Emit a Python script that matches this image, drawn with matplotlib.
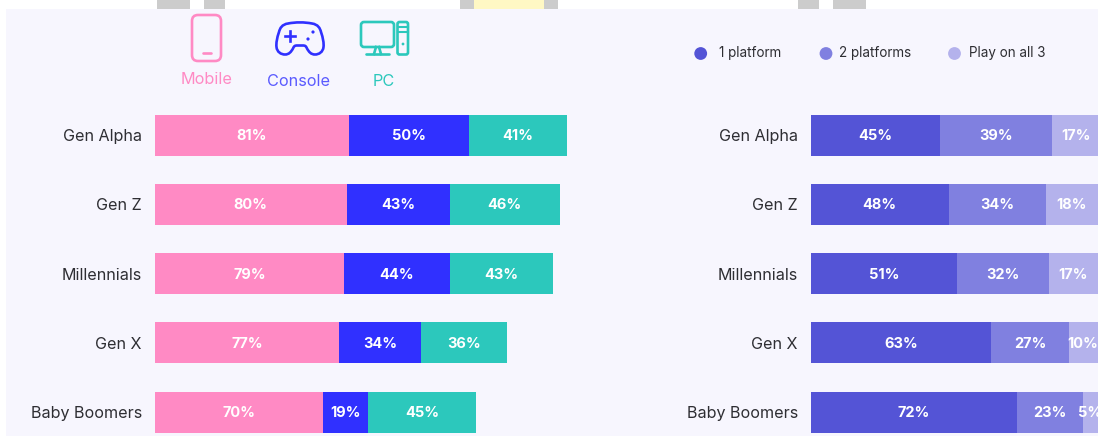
# -*- coding: utf-8 -*-
import matplotlib
matplotlib.use('Agg')
import matplotlib.pyplot as plt
from matplotlib.patches import Rectangle, FancyBboxPatch, Circle, PathPatch
from matplotlib.path import Path

plt.rcParams['font.family'] = ['Inter', 'DejaVu Sans']

W, H = 1108, 436

# data
generations = ['Gen Alpha', 'Gen Z', 'Millennials', 'Gen X', 'Baby Boomers']
mobile = [81, 80, 79, 77, 70]
console = [50, 43, 44, 34, 19]
pc = [41, 46, 43, 36, 45]
one_platform = [45, 48, 51, 63, 72]
two_platforms = [39, 34, 32, 27, 23]
all_three = [17, 18, 17, 10, 5]
device_names = ['Mobile', 'Console', 'PC']
platform_names = ['1 platform', '2 platforms', 'Play on all 3']

PINK, BLUE, TEAL = '#ff8ac4', '#3030ff', '#2cc8bc'
P1, P2, P3 = '#5454d6', '#8080e0', '#b4b2ec'
BG = '#f7f6fe'
TXT = '#2e2e33'


def add_px_axes(fig, x0, x1, y0, y1):
    # position given in picture pixels, y from the top
    return fig.add_axes([x0 / W, 1 - y1 / H, (x1 - x0) / W, (y1 - y0) / H])


def stacked(ax, series, colors):
    left = [0] * len(generations)
    ypos = range(len(generations))
    for vals, col in zip(series, colors):
        ax.barh(ypos, vals, left=left, height=0.592, color=col, linewidth=0)
        for i, v in enumerate(vals):
            ax.text(left[i] + v / 2, i + 0.012, f'{v}%', color='white', ha='center', va='center',
                    fontsize=10.5, fontweight='bold', clip_on=True)
        left = [a + b for a, b in zip(left, vals)]
    ax.set_yticks(list(ypos))
    ax.set_yticklabels(generations, fontsize=11.6, color=TXT, va='center_baseline')
    ax.tick_params(axis='y', length=0, pad=9.5)
    ax.set_xticks([])
    ax.set_ylim(4.5, -0.5)
    ax.patch.set_alpha(0)
    for s in ax.spines.values():
        s.set_visible(False)


fig = plt.figure(figsize=(W / 100, H / 100), dpi=100, facecolor='white')

# overlay in pixel coordinates for the panel, header scraps and icons
bg = fig.add_axes([0, 0, 1, 1])
bg.set_xlim(0, W)
bg.set_ylim(H, 0)
bg.axis('off')
bg.add_patch(Rectangle((6, 9), 1092, 427, color=BG, lw=0))
for x0, x1, col in [(157, 190, '#cccccc'), (204, 225, '#cccccc'), (460, 474, '#cccccc'),
                    (474, 544, '#fff8c4'), (544, 558, '#cccccc'),
                    (798, 819, '#cccccc'), (833, 866, '#cccccc')]:
    bg.add_patch(Rectangle((x0, 0), x1 - x0, 9, color=col, lw=0))

# bars: one axes per panel, the right one is cut at the panel edge like the reference
row_h = 69.25
top = 135.2 - row_h / 2
ax1 = add_px_axes(fig, 155, 155 + 2.395 * 180, top, top + 5 * row_h)
ax1.set_xlim(0, 180)
stacked(ax1, [mobile, console, pc], [PINK, BLUE, TEAL])

ax2 = add_px_axes(fig, 811, 1098, top, top + 5 * row_h)
ax2.set_xlim(0, 287 / 2.865)
stacked(ax2, [one_platform, two_platforms, all_three], [P1, P2, P3])

# device icons
lw = 1.9
bg.add_patch(FancyBboxPatch((192, 15), 29, 46, boxstyle='round,pad=0,rounding_size=6',
                            fc='none', ec=PINK, lw=lw))
bg.plot([203, 211], [53, 53], color=PINK, lw=lw, solid_capstyle='round')

pad = [(288, 23.5),
       (296, 22), (304, 22), (312, 23.5),
       (318, 24.5), (320, 28), (321, 32),
       (323, 38), (324, 43), (323.5, 47),
       (323, 52), (319, 54.5), (315, 54.5),
       (311, 54.5), (309, 52), (307, 48.5),
       (306, 46), (305, 45.5), (303, 45.5),
       (301, 45.5), (299, 45.5), (297, 45.5),
       (295, 45.5), (294, 46), (293, 48.5),
       (291, 52), (289, 54.5), (285, 54.5),
       (281, 54.5), (277, 52), (276.5, 47),
       (276, 43), (277, 38), (279, 32),
       (280, 28), (282, 24.5), (288, 23.5)]
codes = [Path.MOVETO] + [Path.CURVE4] * (len(pad) - 1)
bg.add_patch(PathPatch(Path(pad, codes), fc='none', ec=BLUE, lw=lw))
bg.plot([285, 295], [36, 36], color=BLUE, lw=lw)
bg.plot([290, 290], [31, 41], color=BLUE, lw=lw)
bg.add_patch(Circle((313, 32), 1.6, color=BLUE, lw=0))
bg.add_patch(Circle((308, 39), 1.6, color=BLUE, lw=0))

bg.add_patch(FancyBboxPatch((361, 22), 33, 25, boxstyle='round,pad=0,rounding_size=3',
                            fc='none', ec=TEAL, lw=lw))
bg.plot([376, 374], [47, 54], color=TEAL, lw=lw)
bg.plot([379, 381], [47, 54], color=TEAL, lw=lw)
bg.plot([366, 389], [54, 54], color=TEAL, lw=lw, solid_capstyle='round')
bg.add_patch(FancyBboxPatch((397.5, 22), 10.5, 32.5, boxstyle='round,pad=0,rounding_size=2',
                            fc='none', ec=TEAL, lw=lw))
bg.plot([397.5, 408], [27, 27], color=TEAL, lw=1.5)
bg.plot([397.5, 408], [32, 32], color=TEAL, lw=1.5)
bg.add_patch(Circle((403, 44), 1.4, color=TEAL, lw=0))

for name, x, y, col in zip(device_names, [207, 299, 384], [80, 81.5, 82], [PINK, '#5a5aff', TEAL]):
    bg.text(x, y, name, color=col, ha='center', va='center', fontsize=11.7)

# platform legend
for name, xc, xt, col in zip(platform_names, [700.7, 826, 954.5], [719, 839, 969], [P1, P2, P3]):
    bg.add_patch(Circle((xc, 53.5), 6.4, color=col, lw=0))
    bg.text(xt, 53.5, name, color=TXT, ha='left', va='center', fontsize=9.7)

fig.savefig('out.png', dpi=100)
